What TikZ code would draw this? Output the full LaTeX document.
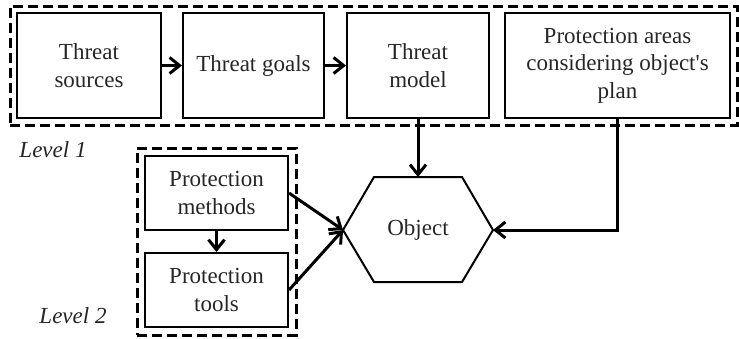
\documentclass[tikz,border=0pt]{standalone}
\usepackage{fontspec}
\setmainfont{Liberation Serif}
\usetikzlibrary{arrows.meta}
\begin{document}
\begin{tikzpicture}[x=1pt,y=-1pt,
  box/.style={draw,line width=2pt,align=center,inner sep=0pt,font=\fontsize{23}{27.5}\selectfont,text=black!85},
  grp/.style={draw,line width=3pt,dash pattern=on 10pt off 5pt},
  arr/.style={line width=3pt,-{Straight Barb[length=10pt,width=16pt,line width=3pt]}},
  lvl/.style={font=\fontsize{23}{27}\selectfont\itshape,text=black!85}]
\useasboundingbox (0,0) rectangle (739,338);
\node[box,minimum width=144pt,minimum height=105pt] (ts) at (89,65.5) {Threat\\sources};
\node[box,minimum width=141pt,minimum height=105pt] (tg) at (253.5,65.5) {Threat goals};
\node[box,minimum width=142pt,minimum height=105pt] (tm) at (418,65.5) {Threat\\model};
\node[box,minimum width=225pt,minimum height=105pt] (pa) at (617.5,65.5) {Protection areas\\considering object\textquotesingle s\\plan};
\node[box,minimum width=143pt,minimum height=74pt] (pm) at (216.5,193) {Protection\\methods};
\node[box,minimum width=143pt,minimum height=74pt] (pt) at (216.5,290) {Protection\\tools};
\node[grp,minimum width=727pt,minimum height=119pt] (g1) at (373.5,65.5) {};
\node[grp,minimum width=159pt,minimum height=187pt] (g2) at (216.5,241.5) {};
\node[lvl] (l1) at (53,150) {Level 1};
\node[lvl] (l2) at (73,316) {Level 2};
\coordinate (hT) at (418,177);
\coordinate (hL) at (343,230);
\coordinate (hR) at (493,230);
\draw[line width=2pt,line join=miter] (374,177) -- (462,177) -- (hR) -- (462,282) -- (374,282) -- (hL) -- cycle;
\node[box,draw=none] (obj) at (418,230) {Object};
\draw[arr] (ts) -- (tg);
\draw[arr] (tg) -- (tm);
\draw[arr] (tm) -- (hT);
\draw[arr] (pa.south) |- (hR);
\draw[arr] (pm) -- (pt);
\draw[arr] (pm.east) -- (hL);
\draw[arr] (pt.east) -- (hL);
\end{tikzpicture}
\end{document}
